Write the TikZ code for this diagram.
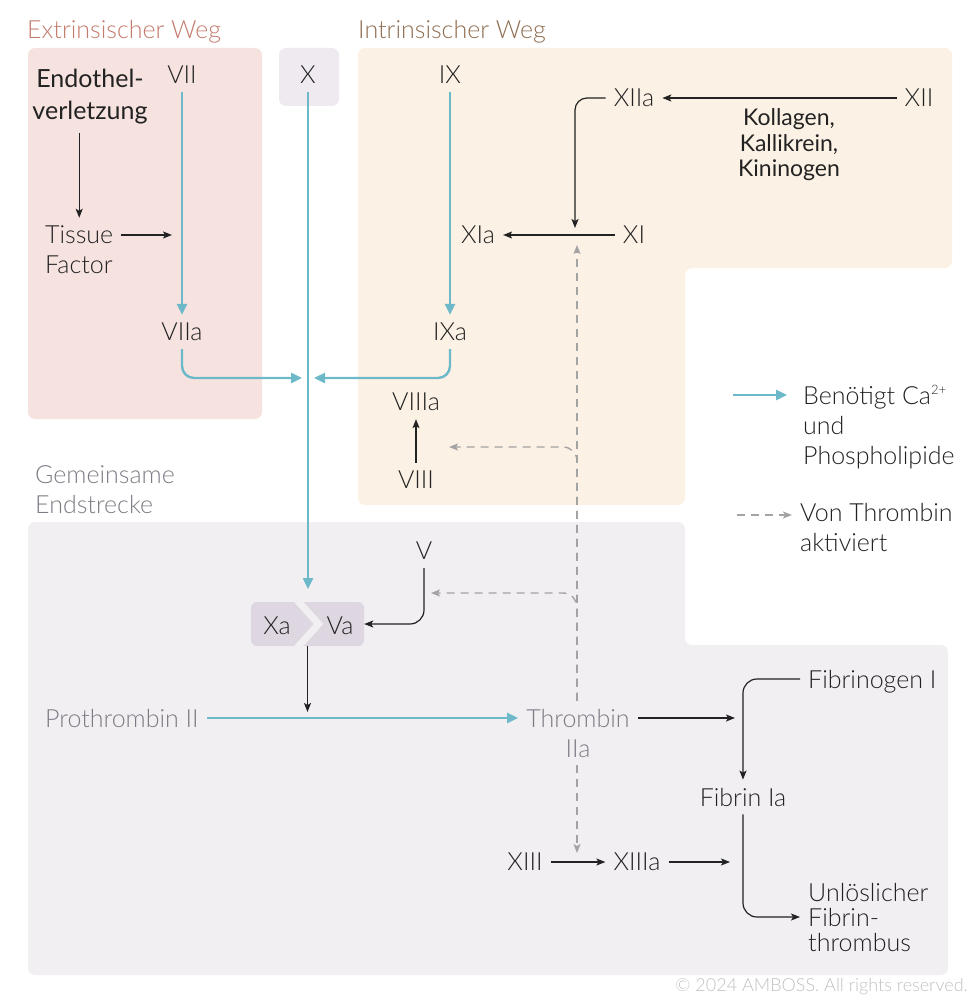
\documentclass[tikz,border=0pt]{standalone}
\usepackage{fontspec}
\setmainfont{Lato}[UprightFont=* Light, BoldFont=*]
\usepackage{tikz}
\usepackage{xcolor}
\usetikzlibrary{arrows.meta}

\definecolor{extbg}{HTML}{F6E3E0}
\definecolor{xbg}{HTML}{EEEAF0}
\definecolor{intbg}{HTML}{FBF1E4}
\definecolor{combg}{HTML}{F2EFF3}
\definecolor{cplxbg}{HTML}{DED7E1}
\definecolor{teal}{HTML}{6DB9CA}
\definecolor{dashgray}{HTML}{A3A3A3}
\definecolor{exttxt}{HTML}{C47A6C}
\definecolor{inttxt}{HTML}{8E6D50}
\definecolor{graytxt}{HTML}{7F7B85}
\definecolor{txt}{HTML}{222222}
\definecolor{copytxt}{HTML}{C0C0C0}

\begin{document}
\begin{tikzpicture}[x=1pt, y=-1pt,
  lbl/.style={font=\fontsize{25}{30}\selectfont, text=txt, inner sep=8pt, align=center},
  ttl/.style={font=\fontsize{25}{30}\selectfont, inner sep=0pt, anchor=west, align=left},
  ca/.style={draw=teal, line width=2.4pt, -{Triangle[length=11pt, width=10pt]}},
  act/.style={draw=txt, line width=1.2pt, -{Stealth[length=9pt, width=7pt, inset=2pt]}},
  thr/.style={draw=dashgray, line width=1.4pt, dash pattern=on 8pt off 6pt, -{Stealth[length=9pt, width=7pt, inset=2pt]}},
]
  \useasboundingbox (0,0) rectangle (977,1000);

  % Backgrounds
  \fill[extbg, rounded corners=7pt] (28,48) rectangle (262,419);
  \fill[xbg, rounded corners=7pt] (279,48) rectangle (339,106);
  \fill[intbg, rounded corners=7pt] (358,48) -- (952,48) -- (952,268) -- (685,268) -- (685,505) -- (358,505) -- cycle;
  \fill[combg, rounded corners=7pt] (28,522) -- (685,522) -- (685,645) -- (948,645) -- (948,975) -- (28,975) -- cycle;

  % Titles
  \node[ttl, text=exttxt] (exttitle) at (27,32) {Extrinsischer Weg};
  \node[ttl, text=inttxt] (inttitle) at (358,32) {Intrinsischer Weg};
  \node[ttl, text=graytxt] (comtitle) at (35,490) {Gemeinsame\\Endstrecke};

  % Extrinsic pathway
  \node[lbl, font=\fontsize{25}{32}\selectfont\bfseries] (endo) at (90,97) {Endothel-\\verletzung};
  \node[lbl, anchor=west, align=left] (tissue) at (37,250) {Tissue\\Factor};
  \node[lbl] (vii) at (182,75) {VII};
  \node[lbl] (viia) at (182,332) {VIIa};
  \coordinate (tf) at (172,235);
  \coordinate (jl) at (302,378);
  \draw[act] (endo.south -| tissue.north) -- (tissue.north);
  \draw[act] (tissue.east |- tf) -- (tf);
  \draw[ca] (vii) -- (viia);
  \draw[ca, rounded corners=12pt] (viia) |- (jl);

  % Factor X
  \node[lbl] (x) at (308,75) {X};
  \coordinate (xend) at (308,589);
  \draw[ca] (x) -- (xend);

  % Intrinsic pathway
  \node[lbl] (ix) at (450,75) {IX};
  \node[lbl] (ixa) at (450,332) {IXa};
  \node[lbl] (viiia) at (416,402) {VIIIa};
  \node[lbl] (viii) at (416,480) {VIII};
  \node[lbl] (xiia) at (634,98) {XIIa};
  \node[lbl] (xii) at (919,98) {XII};
  \node[lbl, font=\fontsize{23}{25.5}\selectfont\bfseries] (kollagen) at (789,145) {Kollagen,\\Kallikrein,\\Kininogen};
  \node[lbl] (xia) at (478,235) {XIa};
  \node[lbl] (xi) at (634,235) {XI};
  \coordinate (jr) at (314,378);
  \coordinate (xij) at (575,228);
  \draw[ca] (ix) -- (ixa);
  \draw[ca, rounded corners=12pt] (ixa) |- (jr);
  \draw[act] (viii) -- (viiia);
  \draw[act] (xii) -- (xiia);
  \draw[act, rounded corners=12pt] (xiia) -| (xij);
  \draw[act] (xi) -- (xia);

  % Common pathway
  \node[lbl] (v) at (424,551) {V};
  \node[minimum width=113pt, minimum height=44pt, fill=cplxbg, rounded corners=6pt] (cplx) at (307.5,624) {};
  \begin{scope}
    \clip (251,602) rectangle (364,646);
    \draw[combg, line width=7pt] (297,600) -- (318.5,624) -- (297,648);
  \end{scope}
  \node[lbl, inner sep=0pt] (xa) at (277,626) {Xa};
  \node[lbl, inner sep=0pt] (va) at (340,626) {Va};
  \node[lbl, text=graytxt, anchor=west] (prothr) at (37,718) {Prothrombin II};
  \node[lbl, text=graytxt] (thrombin) at (578,733) {Thrombin\\IIa};
  \node[lbl, anchor=west, text depth=0pt] (fibrinogen) at (800,679) {Fibrinogen I};
  \node[lbl] (fibrin) at (743,797) {Fibrin Ia};
  \node[lbl, anchor=west, align=left, font=\fontsize{25}{25}\selectfont] (thrombus) at (800,917) {Unlöslicher\\Fibrin-\\thrombus};
  \node[lbl] (xiii) at (525,862) {XIII};
  \node[lbl] (xiiia) at (637,862) {XIIIa};
  \coordinate (pj) at (307.5,712);
  \coordinate (throut) at (735,718);
  \coordinate (xiiiout) at (730,862);
  \draw[act, rounded corners=14pt] (v) |- (cplx.east);
  \draw[act] (cplx) -- (pj);
  \draw[ca] (prothr.east) -- (prothr.east -| thrombin.west);
  \draw[act] (prothr.east -| thrombin.east) -- (throut);
  \draw[act, rounded corners=14pt] (fibrinogen.west) -| (fibrin);
  \draw[act, rounded corners=14pt] (fibrin) |- (thrombus.west);
  \draw[act] (xiii) -- (xiiia);
  \draw[act] (xiiia) -- (xiiiout);

  % Thrombin feedback
  \coordinate (thrup) at (577,245);
  \coordinate (thrviii) at (449,447);
  \coordinate (thrv) at (431,593);
  \coordinate (thrxiii) at (577,853);
  \draw[thr] (thrombin.north -| thrup) -- (thrup);
  \draw[thr, rounded corners=14pt] (thrombin.north -| thrup) |- (thrviii);
  \draw[thr, rounded corners=14pt] (thrombin.north -| thrup) |- (thrv);
  \draw[thr] (thrombin.south -| thrup) -- (thrxiii);

  % Legend
  \node[lbl, anchor=west, align=left] (legca) at (795,427) {Benötigt Ca\raisebox{0.75ex}{\fontsize{13}{13}\selectfont 2+}\\und\\Phospholipide};
  \node[lbl, anchor=west, align=left] (legthr) at (792,528) {Von Thrombin\\aktiviert};
  \coordinate (lgca) at (733,395);
  \coordinate (lgthr) at (737,515);
  \draw[ca, shorten >=8pt] (lgca) -- (lgca -| legca.west);
  \draw[thr] (lgthr) -- (lgthr -| legthr.west);

  % Copyright
  \node[font=\fontsize{18}{20}\selectfont, text=copytxt, anchor=east, inner sep=0pt] (copyr) at (968,987) {© 2024 AMBOSS. All rights reserved.};
\end{tikzpicture}
\end{document}
